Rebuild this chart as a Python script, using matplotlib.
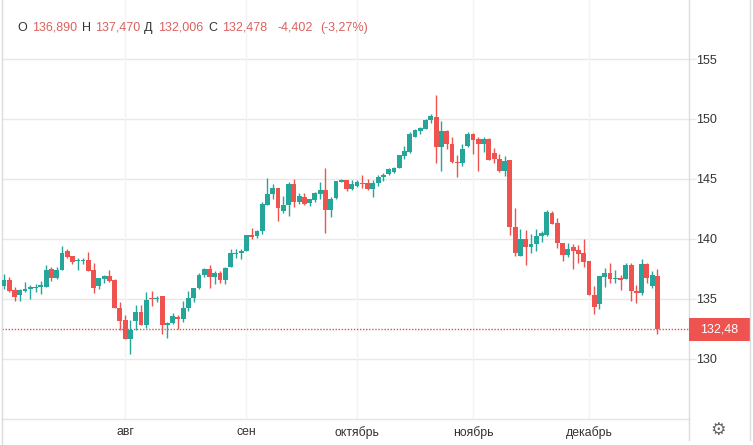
import matplotlib
matplotlib.use("Agg")
import matplotlib.pyplot as plt
from matplotlib.patches import Rectangle

plt.rcParams["font.family"] = ["Liberation Sans", "DejaVu Sans"]

# daily candles
opens = [136.08, 136.58, 135.70, 135.30, 135.60, 135.80, 135.86, 135.97, 135.97, 137.44,
         136.75, 137.36, 138.97, 138.53, 138.10, 138.14, 138.20, 137.36, 136.03, 136.64,
         136.92, 136.53, 134.25, 133.20, 131.60, 133.14, 133.86, 132.78, 135.08, 134.94,
         135.20, 132.78, 132.97, 133.47, 133.28, 134.25, 135.08, 135.89, 136.94, 137.50,
         136.80, 137.17, 136.56, 137.64, 138.70, 138.83, 138.97, 140.28, 140.22, 140.64,
         142.83, 143.75, 144.20, 142.28, 142.80, 144.60, 143.10, 143.50, 142.94, 143.22,
         143.70, 144.10, 142.40, 143.40, 144.75, 144.86, 144.11, 144.44, 144.69, 144.61,
         144.11, 144.61, 145.14, 145.39, 145.58, 145.86, 146.89, 147.22, 148.47, 148.97,
         149.19, 149.89, 150.17, 147.64, 149.03, 147.92, 146.44, 146.33, 147.72, 148.78,
         148.33, 147.92, 148.33, 147.19, 146.69, 145.64, 146.53, 141.00, 138.56, 139.94,
         139.31, 139.53, 140.22, 140.28, 142.17, 141.28, 139.67, 138.61, 139.33, 139.03,
         138.78, 138.14, 135.33, 134.53, 136.83, 137.11, 136.61, 136.69, 136.64, 137.81,
         135.67, 135.44, 137.86, 136.06, 136.89]
highs = [137.08, 136.80, 135.97, 135.83, 136.40, 136.10, 136.20, 136.50, 137.80, 137.60,
         137.64, 139.36, 139.17, 138.53, 138.40, 138.40, 138.90, 138.00, 136.75, 136.94,
         137.40, 136.60, 134.70, 133.60, 133.20, 134.50, 134.50, 135.56, 135.60, 135.20,
         135.20, 133.05, 133.80, 133.60, 134.80, 135.64, 135.92, 137.17, 137.58, 137.78,
         137.30, 137.30, 137.64, 139.10, 139.17, 139.10, 140.28, 140.86, 140.70, 143.08,
         145.08, 144.60, 144.20, 143.56, 144.72, 145.00, 143.83, 143.78, 143.33, 143.92,
         144.75, 145.90, 143.50, 144.80, 144.95, 144.94, 144.89, 144.89, 145.28, 145.00,
         144.89, 145.28, 145.50, 145.89, 146.00, 146.97, 147.72, 148.89, 149.17, 149.31,
         150.00, 150.42, 152.03, 149.80, 149.11, 148.47, 147.00, 147.92, 148.89, 148.83,
         148.50, 148.50, 148.39, 147.58, 147.03, 146.89, 146.56, 142.58, 140.83, 140.69,
         140.36, 140.78, 140.64, 142.39, 142.30, 141.75, 139.67, 139.67, 139.58, 139.44,
         139.94, 138.14, 136.06, 136.89, 137.53, 137.94, 137.39, 136.94, 137.94, 138.00,
         136.11, 138.28, 137.94, 137.31, 137.47]
lows = [135.83, 135.55, 134.80, 134.80, 135.55, 135.00, 135.55, 135.36, 135.97, 136.47,
        136.67, 137.36, 138.42, 137.86, 137.36, 137.86, 137.30, 135.47, 135.83, 136.30,
        136.40, 134.22, 132.40, 131.60, 130.36, 132.36, 132.78, 132.58, 134.36, 134.72,
        132.03, 131.75, 132.86, 132.44, 133.05, 133.97, 134.72, 135.83, 136.83, 135.86,
        136.20, 136.33, 136.20, 137.64, 138.42, 138.33, 138.97, 140.00, 140.08, 140.36,
        142.78, 143.28, 141.50, 142.17, 141.90, 142.64, 142.92, 142.83, 142.72, 143.05,
        143.33, 140.44, 141.83, 143.33, 144.70, 143.97, 144.06, 144.33, 144.22, 144.03,
        143.50, 144.44, 144.80, 145.33, 145.50, 145.86, 146.67, 147.17, 148.47, 148.75,
        149.19, 149.67, 146.28, 145.69, 147.50, 146.33, 145.17, 146.06, 147.67, 147.03,
        145.64, 147.22, 146.56, 146.28, 145.56, 145.22, 140.28, 138.56, 138.56, 137.78,
        138.78, 138.97, 139.72, 140.22, 141.19, 139.19, 138.11, 138.50, 137.44, 137.94,
        137.67, 135.31, 133.69, 134.17, 136.00, 136.28, 136.28, 135.72, 136.61, 134.78,
        134.61, 135.33, 136.33, 135.92, 132.006]
closes = [136.58, 135.64, 135.14, 135.70, 135.83, 135.97, 135.97, 136.10, 137.40, 136.75,
          137.40, 138.83, 138.47, 138.06, 138.25, 138.25, 137.30, 135.92, 136.70, 136.90,
          136.47, 134.22, 133.14, 131.60, 132.40, 133.86, 132.78, 134.92, 134.97, 135.08,
          132.78, 132.97, 133.53, 133.30, 134.25, 135.08, 135.92, 137.00, 137.50, 136.80,
          137.17, 136.56, 137.58, 138.78, 138.83, 139.00, 140.28, 140.14, 140.67, 142.86,
          143.75, 144.20, 142.56, 142.83, 144.60, 143.08, 143.60, 142.90, 143.28, 143.78,
          144.10, 142.40, 143.33, 144.78, 144.89, 144.17, 144.53, 144.75, 144.56, 144.11,
          144.67, 145.14, 145.33, 145.78, 145.92, 146.97, 147.28, 148.78, 149.06, 149.25,
          149.89, 150.22, 147.64, 149.03, 147.89, 146.39, 146.33, 147.50, 148.75, 148.28,
          147.92, 148.33, 146.56, 146.64, 145.64, 146.47, 141.00, 138.78, 139.94, 139.31,
          139.58, 140.22, 140.44, 142.22, 141.22, 139.61, 138.61, 139.17, 138.97, 138.69,
          138.06, 135.31, 134.33, 136.86, 137.11, 136.61, 136.69, 136.56, 137.81, 135.64,
          135.47, 137.86, 136.69, 136.94, 132.478]

month_idx = [23, 46, 67, 89, 111]
month_labels = ["авг", "сен", "октябрь", "ноябрь", "декабрь"]
price_ticks = [130, 135, 140, 145, 150, 155]

header = [("O", 17, "dark"), ("136,890", 32, "red"), ("H", 82, "dark"), ("137,470", 95, "red"),
          ("Д", 144, "dark"), ("132,006", 158, "red"), ("C", 208, "dark"), ("132,478", 222, "red"),
          ("-4,402", 278, "red"), ("(-3,27%)", 320, "red")]

GREEN = "#26a69a"
RED = "#ef5350"
TXT = "#333333"
LINE = "#dcdcdc"
W, H = 753, 445

fig = plt.figure(figsize=(W / 100, H / 100), dpi=100)
ax = fig.add_axes([1.5 / W, 1 - 418.5 / H, 687 / W, 418.5 / H])

xlim = (-0.47, 129.89)
ylim = (130 + (358.5 - 418.5) / 11.98, 130 + 358.5 / 11.98)
ax.set_xlim(xlim)
ax.set_ylim(ylim)

# grid sits behind everything
ax.hlines(price_ticks, xlim[0], xlim[1], color="#e8e8e8", lw=1, zorder=0)
ax.vlines(month_idx, ylim[0], ylim[1], color="#f3f3f3", lw=1, zorder=0)

xs = list(range(len(opens)))
colors = [GREEN if c >= o else RED for o, c in zip(opens, closes)]
ax.vlines(xs, lows, highs, color=colors, lw=1.0, zorder=2)
ax.bar(xs, [abs(c - o) for o, c in zip(opens, closes)],
       bottom=[min(o, c) for o, c in zip(opens, closes)],
       width=0.92, color=colors, lw=0, zorder=3)

ax.axhline(closes[-1], color="#d9534f", lw=1, linestyle=(0, (1, 1.2)), zorder=1)

ax.yaxis.tick_right()
ax.set_yticks(price_ticks)
ax.set_xticks(month_idx, month_labels)
ax.tick_params(axis="y", length=4.7, width=1, color="#e8e8e8", pad=0.6, labelsize=9, labelcolor=TXT)
ax.tick_params(axis="x", length=0, pad=5.5, labelsize=8.8, labelcolor=TXT)

ax.spines["top"].set_visible(False)
ax.spines["bottom"].set_color("#e4e4e4")
ax.spines["bottom"].set_linewidth(1)
for side in ["left", "right"]:
    ax.spines[side].set_color(LINE)
    ax.spines[side].set_linewidth(1)

# strip borders running down past the plot area
fig.add_artist(plt.Line2D([1.5 / W, 1.5 / W], [0, 1 - 418.5 / H], color=LINE, lw=1))
fig.add_artist(plt.Line2D([688.5 / W, 688.5 / W], [1 - 440 / H, 1 - 418.5 / H], color=LINE, lw=1))
fig.add_artist(plt.Line2D([749.5 / W, 749.5 / W], [1 - 440 / H, 1], color=LINE, lw=1))

# last price tag
fig.add_artist(Rectangle((689 / W, 1 - 341 / H), 61 / W, 23 / H, transform=fig.transFigure,
                         facecolor=RED, edgecolor="none"))
fig.text(719.5 / W, 1 - 330 / H, f"{closes[-1]:.2f}".replace(".", ","), color="white",
         fontsize=9, ha="center", va="center")

for s, px, kind in header:
    fig.text(px / W, 1 - 28 / H, s, color=TXT if kind == "dark" else "#d9625f",
             fontsize=9, va="center", ha="left")

fig.text(718.5 / W, 1 - 430 / H, "\u2699", color="#666666", fontsize=12.5, ha="center", va="center",
         family="DejaVu Sans")

fig.savefig("out.png", dpi=100)
